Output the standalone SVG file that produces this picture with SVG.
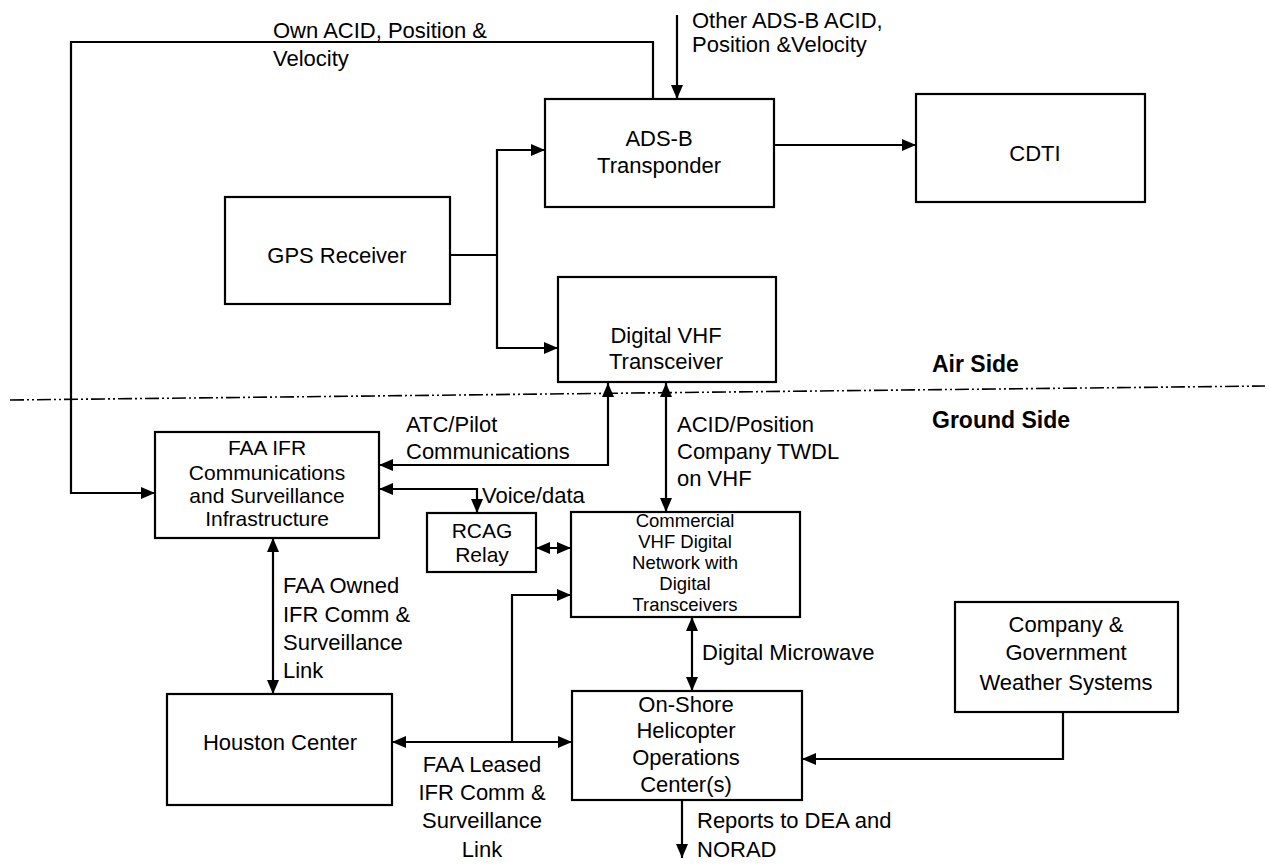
<svg xmlns="http://www.w3.org/2000/svg" width="1270" height="867" viewBox="0 0 1270 867">
<style>
.box{fill:#fff;stroke:#000;stroke-width:2.2}
.c{fill:none;stroke:#000;stroke-width:2.2}
text{font-family:"Liberation Sans",Arial,Helvetica,sans-serif;font-size:22px;fill:#000}
.m{text-anchor:middle}
.b{font-weight:bold;font-size:23px}
.s{font-size:21px}
.t{font-size:18.5px}
</style>
<defs>
<marker id="ah" viewBox="0 0 14 12" refX="14" refY="6" markerWidth="14" markerHeight="12" orient="auto-start-reverse" markerUnits="userSpaceOnUse">
<path d="M0,0 L14,6 L0,12 z" fill="#000"/>
</marker>
</defs>
<rect width="1270" height="867" fill="#fff"/>

<g id="divider">
<line x1="10" y1="400" x2="1265" y2="386" stroke="#000" stroke-width="1.6" stroke-dasharray="14 3 2 3 2 3"/>
<text class="b" x="932" y="372">Air Side</text>
<text class="b" x="932" y="428">Ground Side</text>
</g>

<g id="connectors">
<polyline class="c" points="653,99 653,42 71,42 71,493 155,493" marker-end="url(#ah)"/>
<line class="c" x1="677" y1="15" x2="677" y2="99" marker-end="url(#ah)"/>
<line class="c" x1="450" y1="255" x2="497" y2="255"/>
<polyline class="c" points="545,150 497,150 497,348 558,348" marker-start="url(#ah)" marker-end="url(#ah)"/>
<line class="c" x1="774" y1="145" x2="916" y2="145" marker-end="url(#ah)"/>
<polyline class="c" points="608,383 608,465 379,465" marker-start="url(#ah)" marker-end="url(#ah)"/>
<line class="c" x1="666" y1="383" x2="666" y2="512" marker-start="url(#ah)" marker-end="url(#ah)"/>
<polyline class="c" points="379,489 477,489 477,513" marker-start="url(#ah)" marker-end="url(#ah)"/>
<line class="c" x1="536" y1="548" x2="571" y2="548" marker-start="url(#ah)" marker-end="url(#ah)"/>
<line class="c" x1="273" y1="538" x2="273" y2="694" marker-start="url(#ah)" marker-end="url(#ah)"/>
<line class="c" x1="392" y1="742" x2="572" y2="742" marker-start="url(#ah)" marker-end="url(#ah)"/>
<polyline class="c" points="512,742 512,595 571,595" marker-end="url(#ah)"/>
<line class="c" x1="692" y1="617" x2="692" y2="691" marker-start="url(#ah)" marker-end="url(#ah)"/>
<polyline class="c" points="1063,712 1063,759 802,759" marker-end="url(#ah)"/>
<line class="c" x1="682" y1="800" x2="682" y2="858" marker-end="url(#ah)"/>
</g>

<g id="labels">
<text x="273" y="38">Own ACID, Position &amp;</text>
<text x="273" y="66">Velocity</text>
<text x="692" y="28">Other ADS-B ACID,</text>
<text x="692" y="52">Position &amp;Velocity</text>
<text x="406" y="432">ATC/Pilot</text>
<text x="406" y="459">Communications</text>
<text x="482" y="503">Voice/data</text>
<text x="677" y="432">ACID/Position</text>
<text x="677" y="459">Company TWDL</text>
<text x="677" y="486">on VHF</text>
<text x="283" y="593">FAA Owned</text>
<text x="283" y="622">IFR Comm &amp;</text>
<text x="283" y="650">Surveillance</text>
<text x="283" y="678">Link</text>
<text x="702" y="660">Digital Microwave</text>
<text class="m" x="482" y="772">FAA Leased</text>
<text class="m" x="482" y="800">IFR Comm &amp;</text>
<text class="m" x="482" y="828">Surveillance</text>
<text class="m" x="482" y="857">Link</text>
<text x="697" y="828">Reports to DEA and</text>
<text x="697" y="857">NORAD</text>
</g>

<g id="ads-b">
<rect class="box" x="545" y="99" width="229" height="108"/>
<text class="m" x="659" y="146">ADS-B</text>
<text class="m" x="659" y="173">Transponder</text>
</g>
<g id="cdti">
<rect class="box" x="916" y="94" width="229" height="108"/>
<text class="m" x="1035" y="161">CDTI</text>
</g>
<g id="gps">
<rect class="box" x="225" y="197" width="225" height="107"/>
<text class="m" x="337" y="263">GPS Receiver</text>
</g>
<g id="vhf">
<rect class="box" x="558" y="277" width="218" height="105"/>
<text class="m" x="666" y="343">Digital VHF</text>
<text class="m" x="666" y="369">Transceiver</text>
</g>
<g id="faa-ifr">
<rect class="box" x="155" y="432" width="224" height="106"/>
<text class="m s" x="267" y="455">FAA IFR</text>
<text class="m s" x="267" y="480">Communications</text>
<text class="m s" x="267" y="503">and Surveillance</text>
<text class="m s" x="267" y="526">Infrastructure</text>
</g>
<g id="rcag">
<rect class="box" x="427" y="513" width="109" height="59"/>
<text class="m s" x="482" y="538">RCAG</text>
<text class="m s" x="482" y="562">Relay</text>
</g>
<g id="commercial">
<rect class="box" x="571" y="512" width="229" height="105"/>
<text class="m t" x="685" y="527">Commercial</text>
<text class="m t" x="685" y="548">VHF Digital</text>
<text class="m t" x="685" y="569">Network with</text>
<text class="m t" x="685" y="590">Digital</text>
<text class="m t" x="685" y="611">Transceivers</text>
</g>
<g id="houston">
<rect class="box" x="167" y="694" width="225" height="111"/>
<text class="m" x="280" y="750">Houston Center</text>
</g>
<g id="onshore">
<rect class="box" x="572" y="691" width="230" height="109"/>
<text class="m" x="686" y="712">On-Shore</text>
<text class="m" x="686" y="738">Helicopter</text>
<text class="m" x="686" y="765">Operations</text>
<text class="m" x="686" y="792">Center(s)</text>
</g>
<g id="weather">
<rect class="box" x="955" y="602" width="223" height="110"/>
<text class="m" x="1066" y="632">Company &amp;</text>
<text class="m" x="1066" y="660">Government</text>
<text class="m" x="1066" y="690">Weather Systems</text>
</g>
</svg>
